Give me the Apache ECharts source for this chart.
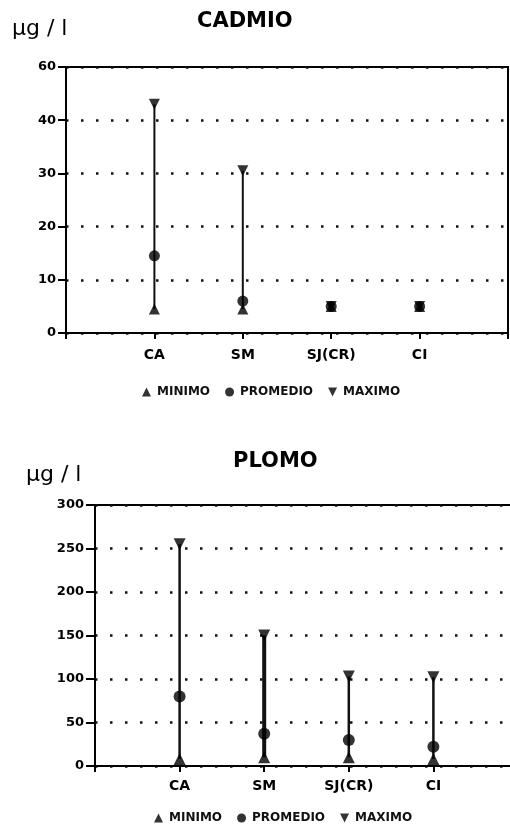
<!DOCTYPE html>
<html><head><meta charset="utf-8">
<script src="https://cdn.jsdelivr.net/npm/echarts@6/dist/echarts.min.js"></script>
<style>html,body{margin:0;padding:0;background:#fff;overflow:hidden;width:510px;height:827px}#c{width:540px;height:827px}</style>
</head><body><div id="c"></div>
<script>
const categories = ['CA', 'SM', 'SJ(CR)', 'CI'];
const cdMin = [4.5, 4.5, 5, 5];
const cdAvg = [14.5, 6, 5, 5];
const cdMax = [43, 30.5, 5, 5];
const cdTickLabels = ['0', '10', '20', '30', '40', '60'];
const pbMin = [8, 10, 10, 8];
const pbAvg = [80, 37, 30, 22];
const pbMax = [255, 150, 103, 102];
const pbTickLabels = ['0', '50', '100', '150', '200', '250', '300'];
const seriesNames = ['MINIMO', 'PROMEDIO', 'MAXIMO'];

const FONT = 'DejaVu Sans';
const chart = echarts.init(document.getElementById('c'));

function mkX(gi, margin) {
  return {
    type: 'value', gridIndex: gi, min: 0, max: 5, interval: 1,
    axisLine: { show: true, lineStyle: { color: '#000', width: 2 } },
    axisTick: { show: true, length: 6, lineStyle: { color: '#000', width: 2 } },
    axisLabel: { margin: margin, fontSize: 14, fontWeight: 'bold', fontFamily: FONT, color: '#000',
      formatter: v => categories[v - 1] || '' },
    splitLine: { show: false }
  };
}
function mkY(gi, max, interval, labels, tickLen, margin) {
  return {
    type: 'value', gridIndex: gi, min: 0, max: max, interval: interval,
    axisLine: { show: true, lineStyle: { color: '#000', width: 2 } },
    axisTick: { show: true, length: tickLen, lineStyle: { color: '#000', width: 2 } },
    axisLabel: { margin: margin, fontSize: 13, fontWeight: 'bold', fontFamily: FONT, color: '#000',
      formatter: v => labels[Math.round(v / interval)] },
    splitLine: { show: true, lineStyle: { type: [2.5, 12.5], color: '#111', width: 2.5 } }
  };
}
function rangeSeries(gi, mins, maxs, widthFn) {
  return {
    type: 'custom', xAxisIndex: gi, yAxisIndex: gi, z: 1,
    data: categories.map((c, i) => [i + 1, mins[i], maxs[i]]),
    renderItem: (params, api) => {
      const p1 = api.coord([api.value(0), api.value(1)]);
      const p2 = api.coord([api.value(0), api.value(2)]);
      return { type: 'line', shape: { x1: p1[0], y1: p1[1], x2: p2[0], y2: p2[1] },
        style: { stroke: '#111', lineWidth: widthFn(params.dataIndex) } };
    }
  };
}
function pointSeries(gi, name, vals, symbol, size, rot) {
  return {
    type: 'scatter', name: name, xAxisIndex: gi, yAxisIndex: gi, z: 3,
    symbol: symbol, symbolSize: size, symbolRotate: rot,
    itemStyle: { color: '#000' },
    data: categories.map((c, i) => [i + 1, vals[i]])
  };
}
const legendData = [
  { name: seriesNames[0], icon: 'triangle' },
  { name: seriesNames[1], icon: 'circle' },
  { name: seriesNames[2], icon: 'path://M0,0L10,0L5,10Z' }
];
function mkLegend(left, top) {
  return { left: left, top: top, itemWidth: 9, itemHeight: 9, itemGap: 15, symbolRotate: 0,
    selectedMode: false, padding: 0,
    textStyle: { fontFamily: FONT, fontSize: 12, fontWeight: 'bold', color: '#111', padding: [0, 0, 0, 1] },
    data: legendData };
}
const titleStyle = { fontFamily: FONT, fontWeight: 'bold', fontSize: 21, color: '#000' };
const unitStyle = { fontFamily: FONT, fontWeight: 'normal', fontSize: 22, color: '#000' };

chart.setOption({
  animation: false,
  title: [
    { text: 'CADMIO', left: 197, top: 11, padding: 0, textStyle: titleStyle },
    { text: 'µg / l', left: 12, top: 18, padding: 0, textStyle: unitStyle },
    { text: 'PLOMO', left: 233, top: 451, padding: 0, textStyle: titleStyle },
    { text: 'µg / l', left: 26, top: 464, padding: 0, textStyle: unitStyle }
  ],
  legend: [mkLegend(142, 386), mkLegend(154, 812)],
  grid: [
    { left: 66, top: 67, width: 442, height: 266, show: true, borderColor: '#000', borderWidth: 2 },
    { left: 95, top: 505, width: 423, height: 261, show: true, borderColor: '#000', borderWidth: 2 }
  ],
  xAxis: [mkX(0, 15), mkX(1, 13)],
  yAxis: [mkY(0, 50, 10, cdTickLabels, 8, 10), mkY(1, 300, 50, pbTickLabels, 9, 11)],
  series: [
    rangeSeries(0, cdMin, cdMax, () => 2),
    pointSeries(0, seriesNames[0], cdMin, 'triangle', 11, 0),
    pointSeries(0, seriesNames[1], cdAvg, 'circle', 11, 0),
    pointSeries(0, seriesNames[2], cdMax, 'triangle', 11, 180),
    rangeSeries(1, pbMin, pbMax, i => (i === 1 ? 4 : 2.5)),
    pointSeries(1, seriesNames[0], pbMin, 'triangle', 12, 0),
    pointSeries(1, seriesNames[1], pbAvg, 'circle', 12, 0),
    pointSeries(1, seriesNames[2], pbMax, 'triangle', 12, 180)
  ]
});
</script></body></html>
